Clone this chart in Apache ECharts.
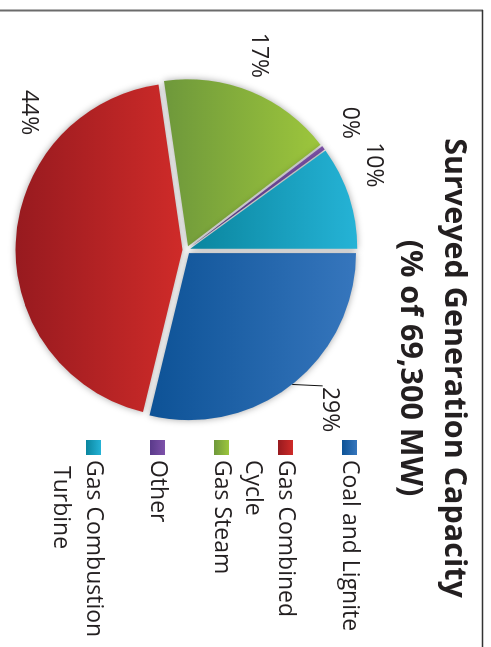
<!DOCTYPE html>
<html>
<head>
<meta charset="utf-8">
<script src="https://cdn.jsdelivr.net/npm/echarts@6/dist/echarts.min.js"></script>
<style>
  html, body { margin: 0; padding: 0; background: #fff; overflow: hidden; }
  body { width: 491px; height: 647px; position: relative; }
  /* the chart is laid out landscape and turned a quarter turn clockwise */
  #chart {
    position: absolute; left: 0; top: 0;
    width: 647px; height: 491px;
    transform-origin: 0 0;
    transform: translate(491px, 0) rotate(90deg);
  }
</style>
</head>
<body>
<div id="chart"></div>
<script>
// Share of surveyed generation capacity by fuel type (percent of 69,300 MW)
const categories = ['Coal and Lignite', 'Gas Combined Cycle', 'Gas Steam', 'Other', 'Gas Combustion Turbine'];
const shares = [28.8, 43.9, 16.9, 0.4, 10.0];

const titleText = 'Surveyed Generation Capacity';
const subtitleText = '(% of 69,300 MW)';

// [dark, light] fill pair per slice
const palette = [
  ['#0d5296', '#3676bd'],
  ['#971a1f', '#cf2b29'],
  ['#6e983b', '#9dc63c'],
  ['#5a3a8a', '#7e52aa'],
  ['#0a859e', '#25b3d6']
];

// nudges for the percentage labels, by slice index: [dx, dy]
const labelNudge = [
  [-12, -30],
  [-101, -20],
  [0, 0],
  [2, -14],
  [0, -10]
];

function fill(pair) {
  return new echarts.graphic.LinearGradient(0, 1, 0, 0, [
    { offset: 0, color: pair[0] },
    { offset: 1, color: pair[1] }
  ]);
}

const font = '"Open Sans", "Noto Sans", sans-serif';
const textColor = '#231f20';

// one legend block per entry so every row sits on the same pitch;
// the text box is one line tall, so a wrapped second line hangs below
const legendTop = 130, legendPitch = 64;
const legends = categories.map((name, i) => ({
  orient: 'vertical',
  left: 440,
  top: legendTop + legendPitch * i,
  padding: 0,
  itemWidth: 15,
  itemHeight: 15,
  icon: 'rect',
  selectedMode: false,
  data: [name],
  formatter: n => '{t|' + n + '}',
  textStyle: {
    width: 180,
    height: 33,
    overflow: 'break',
    rich: {
      t: {
        fontFamily: font,
        fontSize: 23,
        color: textColor,
        lineHeight: 33
      }
    }
  }
}));

const chart = echarts.init(document.getElementById('chart'), null, { renderer: 'canvas' });

chart.setOption({
  animation: false,
  title: {
    text: titleText + '\n' + subtitleText,
    left: 368,
    top: 15,
    textAlign: 'center',
    padding: 0,
    textStyle: {
      fontFamily: font,
      fontSize: 30.5,
      fontWeight: 'bold',
      color: textColor,
      lineHeight: 44,
      align: 'center'
    }
  },
  legend: legends,
  graphic: [
    { type: 'line', shape: { x1: 10.5, y1: 8, x2: 10.5, y2: 491 }, style: { stroke: '#6b6b6b', lineWidth: 2 } },
    { type: 'line', shape: { x1: 10, y1: 8.5, x2: 647, y2: 8.5 }, style: { stroke: '#333', lineWidth: 1.5 } }
  ],
  series: [{
    type: 'pie',
    center: [250, 304.5],
    radius: 167,
    startAngle: 90,
    clockwise: true,
    selectedMode: 'multiple',
    selectedOffset: 4,
    emphasis: { disabled: true },
    itemStyle: {
      shadowBlur: 7,
      shadowColor: 'rgba(0,0,0,0.35)'
    },
    label: {
      show: true,
      position: 'outside',
      fontFamily: font,
      fontSize: 23,
      color: textColor,
      formatter: p => Math.round(p.percent) + '%'
    },
    labelLine: { show: false, length: 15, length2: 0 },
    labelLayout: p => {
      const n = labelNudge[p.dataIndex];
      const out = { dx: n[0], dy: n[1] };
      const pts = p.labelLinePoints;
      if (pts && pts.length) {
        // leader runs from the slice edge to the lower-left corner of the moved label
        const r = p.labelRect;
        out.labelLinePoints = [
          pts[0],
          [r.x + n[0] - 1, r.y + r.height * 0.8 + n[1]]
        ];
      }
      return out;
    },
    data: categories.map((name, i) => ({
      name,
      value: shares[i],
      selected: true,
      itemStyle: { color: fill(palette[i]) },
      select: { itemStyle: { color: fill(palette[i]) } },
      labelLine: i === 0
        ? { show: true, length: 12, length2: 0, lineStyle: { color: '#111', width: 1 } }
        : undefined
    }))
  }]
});
</script>
</body>
</html>
